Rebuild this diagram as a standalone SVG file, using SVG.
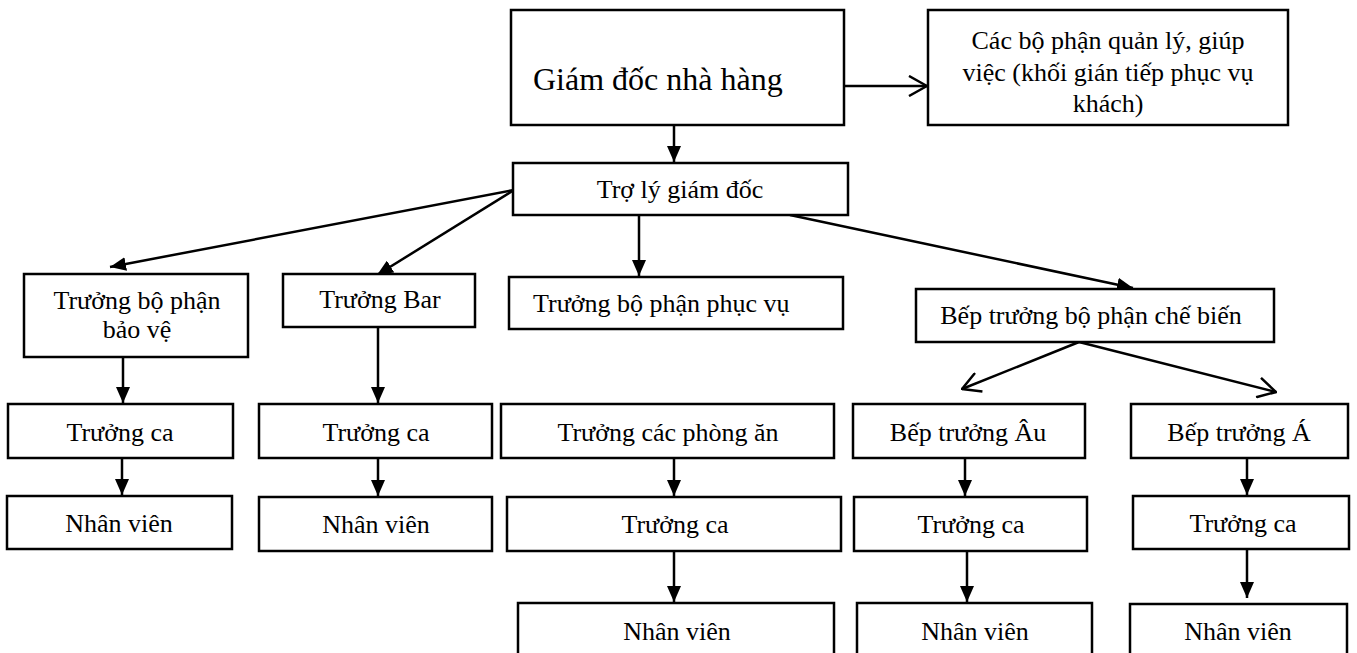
<svg xmlns="http://www.w3.org/2000/svg" width="1357" height="653" viewBox="0 0 1357 653">
<defs>
<style>
.box{fill:#fff;stroke:#000;stroke-width:2.5}
.t{font-family:"Liberation Serif","Times New Roman",serif;font-size:26px;fill:#000;text-anchor:middle}
.big{font-size:32px;text-anchor:start}
.ls{text-anchor:start}
.c{stroke:#000;stroke-width:2.5;fill:none}
</style>
<marker id="fa" viewBox="0 0 16 14" refX="16" refY="7" markerWidth="16" markerHeight="14" markerUnits="userSpaceOnUse" orient="auto">
<path d="M0,0 L16,7 L0,14 Z" fill="#000"/>
</marker>
<marker id="oa" viewBox="0 0 20 22" refX="19" refY="11" markerWidth="20" markerHeight="22" markerUnits="userSpaceOnUse" orient="auto">
<path d="M1,1 L19,11 L1,21" fill="none" stroke="#000" stroke-width="2.5"/>
</marker>
</defs>
<rect width="1357" height="653" fill="#fff"/>
<g id="connectors">
<line class="c" x1="844" y1="86" x2="927" y2="86" marker-end="url(#oa)"/>
<line class="c" x1="674" y1="125" x2="674" y2="162" marker-end="url(#fa)"/>
<line class="c" x1="514" y1="190" x2="110" y2="267" marker-end="url(#fa)"/>
<line class="c" x1="514" y1="190" x2="377" y2="275" marker-end="url(#fa)"/>
<line class="c" x1="639" y1="215" x2="639" y2="276" marker-end="url(#fa)"/>
<line class="c" x1="790" y1="215" x2="1133" y2="288" marker-end="url(#fa)"/>
<line class="c" x1="1079" y1="342" x2="962" y2="389" marker-end="url(#oa)"/>
<line class="c" x1="1079" y1="342" x2="1276" y2="392" marker-end="url(#oa)"/>
<line class="c" x1="123" y1="357" x2="123" y2="403" marker-end="url(#fa)"/>
<line class="c" x1="378" y1="327" x2="378" y2="403" marker-end="url(#fa)"/>
<line class="c" x1="122" y1="458" x2="122" y2="495" marker-end="url(#fa)"/>
<line class="c" x1="378" y1="458" x2="378" y2="496" marker-end="url(#fa)"/>
<line class="c" x1="674" y1="458" x2="674" y2="496" marker-end="url(#fa)"/>
<line class="c" x1="674" y1="551" x2="674" y2="602" marker-end="url(#fa)"/>
<line class="c" x1="965" y1="458" x2="965" y2="496" marker-end="url(#fa)"/>
<line class="c" x1="967" y1="551" x2="967" y2="602" marker-end="url(#fa)"/>
<line class="c" x1="1247" y1="458" x2="1247" y2="495" marker-end="url(#fa)"/>
<line class="c" x1="1247" y1="549" x2="1247" y2="598" marker-end="url(#fa)"/>
</g>
<g id="giam-doc">
<rect class="box" x="511" y="10" width="333" height="115"/>
<text class="t big" x="533" y="90">Giám đốc nhà hàng</text>
</g>
<g id="bo-phan-quan-ly">
<rect class="box" x="928" y="10" width="360" height="115"/>
<text class="t" x="1108" y="49">Các bộ phận quản lý, giúp</text>
<text class="t" x="1108" y="81">việc (khối gián tiếp phục vụ</text>
<text class="t" x="1108" y="112">khách)</text>
</g>
<g id="tro-ly">
<rect class="box" x="513" y="163" width="335" height="52"/>
<text class="t" x="680" y="198">Trợ lý giám đốc</text>
</g>
<g id="truong-bao-ve">
<rect class="box" x="24" y="274" width="224" height="83"/>
<text class="t" x="137" y="309">Trưởng bộ phận</text>
<text class="t" x="137" y="338">bảo vệ</text>
</g>
<g id="truong-bar">
<rect class="box" x="283" y="274" width="192" height="53"/>
<text class="t" x="380" y="308">Trưởng Bar</text>
</g>
<g id="truong-phuc-vu">
<rect class="box" x="509" y="277" width="334" height="52"/>
<text class="t ls" x="533" y="312">Trưởng bộ phận phục vụ</text>
</g>
<g id="bep-truong-che-bien">
<rect class="box" x="916" y="289" width="358" height="53"/>
<text class="t" x="1091" y="324">Bếp trưởng bộ phận chế biến</text>
</g>
<g id="truong-ca-bao-ve">
<rect class="box" x="8" y="404" width="225" height="54"/>
<text class="t" x="120" y="441">Trưởng ca</text>
</g>
<g id="nhan-vien-bao-ve">
<rect class="box" x="7" y="496" width="225" height="53"/>
<text class="t" x="119" y="532">Nhân viên</text>
</g>
<g id="truong-ca-bar">
<rect class="box" x="259" y="404" width="233" height="54"/>
<text class="t" x="376" y="441">Trưởng ca</text>
</g>
<g id="nhan-vien-bar">
<rect class="box" x="259" y="497" width="233" height="54"/>
<text class="t" x="376" y="533">Nhân viên</text>
</g>
<g id="truong-phong-an">
<rect class="box" x="501" y="404" width="333" height="54"/>
<text class="t" x="668" y="441">Trưởng các phòng ăn</text>
</g>
<g id="truong-ca-phuc-vu">
<rect class="box" x="507" y="497" width="334" height="54"/>
<text class="t" x="675" y="533">Trưởng ca</text>
</g>
<g id="nhan-vien-phuc-vu">
<rect class="box" x="518" y="603" width="316" height="60"/>
<text class="t" x="677" y="640">Nhân viên</text>
</g>
<g id="bep-truong-au">
<rect class="box" x="853" y="404" width="232" height="54"/>
<text class="t" x="968" y="441">Bếp trưởng Âu</text>
</g>
<g id="truong-ca-au">
<rect class="box" x="854" y="497" width="233" height="54"/>
<text class="t" x="971" y="533">Trưởng ca</text>
</g>
<g id="nhan-vien-au">
<rect class="box" x="857" y="603" width="235" height="60"/>
<text class="t" x="975" y="640">Nhân viên</text>
</g>
<g id="bep-truong-a">
<rect class="box" x="1131" y="404" width="217" height="54"/>
<text class="t" x="1239" y="441">Bếp trưởng Á</text>
</g>
<g id="truong-ca-a">
<rect class="box" x="1133" y="496" width="216" height="53"/>
<text class="t" x="1243" y="532">Trưởng ca</text>
</g>
<g id="nhan-vien-a">
<rect class="box" x="1130" y="604" width="217" height="60"/>
<text class="t" x="1238" y="640">Nhân viên</text>
</g>
</svg>
